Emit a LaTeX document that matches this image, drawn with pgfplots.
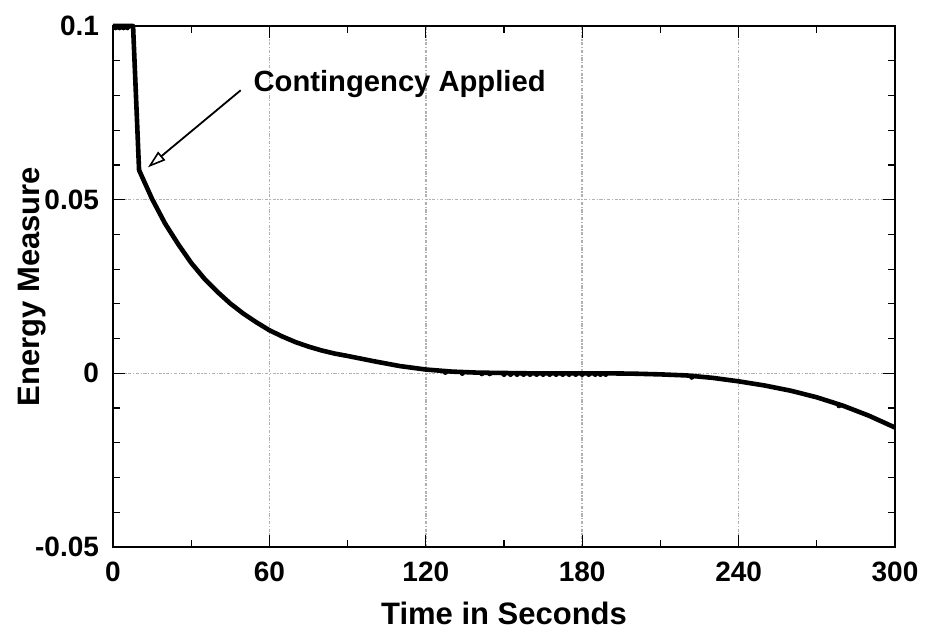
\documentclass[border=0pt]{standalone}
\usepackage{fontspec}
\setmainfont{Liberation Sans}
\usepackage{pgfplots}
\pgfplotsset{compat=1.18}
\usetikzlibrary{arrows.meta}

\begin{document}
\begin{tikzpicture}
\begin{axis}[
  scale only axis,
  width=391pt, height=260.5pt,
  xmin=0, xmax=300, ymin=-0.05, ymax=0.1,
  xtick={0,60,120,180,240,300},
  minor x tick num=1,
  ytick={-0.05,0,0.05,0.1},
  yticklabels={-0.05,0,0.05,0.1},
  minor y tick num=4,
  tick align=inside,
  major tick length=6pt, minor tick length=3.5pt,
  tick style={black, line width=0.6pt},
  axis line style={line width=1pt},
  grid=major,
  grid style={black!30, line width=0.8pt, dash pattern=on 1.6pt off 0.8pt on 0.6pt off 0.8pt},
  /pgf/number format/assume math mode=true,
  ticklabel style={font=\fontsize{14}{16}\selectfont\bfseries},
  xticklabel style={yshift=-4pt},
  yticklabel style={xshift=-3.5pt},
  xlabel={Time in Seconds},
  ylabel={Energy Measure},
  label style={font=\fontsize{15.5}{18}\selectfont\bfseries},
  xlabel style={at={(axis description cs:0.5,-0.127)}, anchor=center},
  ylabel style={at={(axis description cs:-0.103,0.5)}, anchor=center},
  clip=false,
]
% main trace
\addplot[black, line width=2.3pt, line join=round] coordinates {
  (0,0.1)(7.7,0.1)(10,0.0585)(15,0.0502)(20,0.0431)(25,0.0372)(30,0.0318)
  (35,0.0273)(40,0.0235)(45,0.0201)(50,0.0172)(55,0.0147)(60,0.0124)
  (65,0.0106)(70,0.0090)(75,0.0077)(80,0.0066)(85,0.0057)(90,0.0050)
  (100,0.0035)(110,0.0021)(120,0.0011)(130,0.0005)(140,0.0002)(150,0.0001)
  (160,0.0)(170,0.0)(180,0.0)(190,0.0)(200,-0.0001)(210,-0.0003)
  (220,-0.0006)(230,-0.0013)(240,-0.0023)(250,-0.0035)(260,-0.0050)
  (270,-0.0069)(280,-0.0093)(290,-0.0122)(300,-0.0156)
};
% small sample marks along the trace
\addplot[only marks, black, mark=*, mark size=1.1pt] coordinates {
  (1,0.0995)(2.5,0.0995)(4,0.0995)(5.5,0.0995)
  (127.5,0.0003)(134,0.0000)(141.5,-0.0001)(144.5,-0.0001)
  (150,-0.0003)(152.5,-0.0003)(155,-0.0003)(157.5,-0.0003)(160,-0.0003)
  (162.5,-0.0003)(165,-0.0003)(167.5,-0.0003)(170,-0.0003)(172.5,-0.0003)
  (175,-0.0003)(177.5,-0.0003)(180,-0.0003)(182.5,-0.0003)
  (185,-0.0003)(187,-0.0003)(189,-0.0003)
  (222,-0.0011)(278.5,-0.0093)
};
\draw[line width=0.9pt, -{Triangle[open, length=9pt, width=5.5pt, line width=0.8pt]}]
  (axis cs:49,0.0815) -- (axis cs:13.4,0.0593);
\node[anchor=west, inner sep=0pt, font=\fontsize{14.6}{16}\selectfont\bfseries]
  at (axis cs:53.8,0.0834) {Contingency Applied};
\end{axis}
\path (current axis.south west) ++(-56.5pt,-39.5pt) (current axis.north east) ++(19.5pt,13pt);
\end{tikzpicture}
\end{document}
